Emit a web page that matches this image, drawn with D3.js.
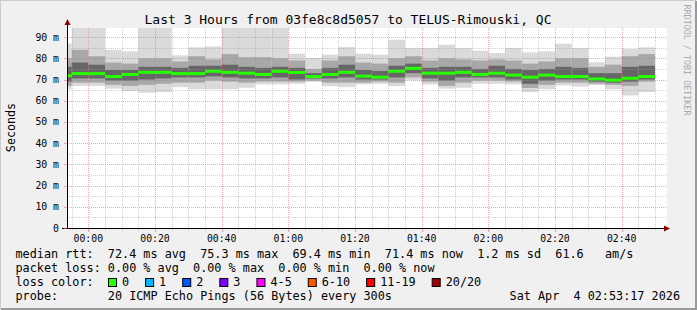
<!DOCTYPE html>
<html>
<head>
<meta charset="utf-8">
<script src="https://cdn.jsdelivr.net/npm/d3@7"></script>
<style>
body { margin: 0; background: #fff; }
svg text { font-family: "DejaVu Sans Mono", monospace; white-space: pre; }
</style>
</head>
<body>
<svg width="697" height="310"></svg>
<script>
// median rtt per 5 minute step (ms), first bin is the one ending 23:55
const medians = [71.8, 72.8, 72.8, 71.4, 72.4, 73.4, 73.4, 72.8, 72.8, 73.9, 73.4, 73.0,
                 72.4, 73.9, 73.3, 71.4, 72.4, 73.4, 71.6, 71.1, 73.9, 75.3, 73.0, 73.0,
                 73.4, 72.4, 73.0, 72.1, 71.1, 72.1, 71.4, 71.4, 70.3, 69.7, 70.6, 71.4];
// smoke: min / 10% / 25% / 75% / 90% / max of the 20 pings (ms)
const pingMin = [65.5, 67.0, 67.0, 65.7, 64.6, 63.8, 64.1, 66.4, 65.4, 65.4, 65.4, 66.1,
                 67.7, 67.7, 68.0, 68.9, 66.9, 66.4, 67.7, 68.0, 66.9, 69.6, 67.7, 65.7,
                 66.1, 68.0, 68.0, 67.7, 64.1, 65.4, 67.2, 66.7, 67.4, 65.4, 62.5, 64.1];
const p10 = [67.0, 68.5, 68.5, 67.5, 67.0, 67.5, 68.0, 68.5, 68.5, 69.5, 69.0, 68.5,
             69.0, 69.0, 69.0, 69.5, 68.5, 68.5, 68.5, 69.0, 68.5, 71.0, 69.0, 67.0,
             68.5, 69.5, 69.5, 69.0, 66.0, 67.5, 68.5, 68.5, 68.0, 67.5, 67.0, 69.0];
const p25 = [69.0, 70.5, 70.5, 69.5, 69.5, 70.0, 70.5, 71.0, 71.0, 71.5, 71.0, 70.5,
             70.5, 71.0, 70.0, 70.5, 70.5, 71.0, 70.0, 70.0, 71.0, 73.0, 70.5, 69.5,
             71.0, 71.0, 71.0, 70.0, 68.0, 69.5, 70.0, 70.0, 69.0, 68.5, 69.0, 70.0];
const p75 = [76.0, 78.0, 77.0, 74.5, 74.5, 76.0, 76.0, 75.5, 76.5, 76.5, 77.0, 76.0,
             75.5, 76.0, 75.5, 73.0, 75.5, 77.0, 74.5, 74.0, 76.5, 77.5, 75.5, 76.0,
             76.0, 75.0, 76.5, 75.0, 74.5, 75.0, 76.0, 75.5, 73.0, 73.0, 76.0, 76.5];
const p90 = [80.0, 84.0, 81.0, 78.0, 77.5, 80.0, 80.0, 78.5, 81.0, 79.5, 82.0, 80.5,
             80.5, 80.0, 79.0, 75.0, 79.0, 81.0, 78.0, 77.5, 80.0, 81.0, 79.0, 80.0,
             79.5, 79.0, 79.5, 79.0, 77.5, 78.5, 80.0, 80.0, 76.0, 77.0, 81.0, 82.0];
const pingMax = [87.0, 94.4, 94.4, 84.0, 83.3, 94.4, 94.4, 81.4, 85.2, 85.6, 94.4, 94.4,
                 94.4, 94.4, 82.2, 80.2, 81.7, 85.3, 82.2, 81.7, 88.8, 84.9, 84.9, 86.4,
                 84.9, 83.6, 82.5, 84.9, 82.8, 83.3, 86.9, 84.9, 78.1, 80.8, 84.4, 85.2];

const lossLabels = ['0', '1', '2', '3', '4-5', '6-10', '11-19', '20/20'];
const lossColors = ['#26ff00', '#00b8ff', '#0059ff', '#7e00ff', '#ff00ff', '#ff5500', '#ff0000', '#a10000'];

const legendLines = [
  'median rtt:  72.4 ms avg  75.3 ms max  69.4 ms min  71.4 ms now  1.2 ms sd  61.6   am/s',
  'packet loss: 0.00 % avg  0.00 % max  0.00 % min  0.00 % now',
  'loss color:',
  'probe:       20 ICMP Echo Pings (56 Bytes) every 300s'
];

const svg = d3.select('svg');

// frame
svg.append('rect').attr('width', 697).attr('height', 310).attr('fill', '#f0f0f0');
svg.append('path').attr('d', 'M0,309V0H696').attr('fill', 'none').attr('stroke', '#cbcbcb').attr('stroke-width', 2);
svg.append('path').attr('d', 'M1,309H696V1').attr('fill', 'none').attr('stroke', '#999').attr('stroke-width', 2);

const t0 = new Date(2026, 3, 4, 0, 0, 0);
const start = d3.timeSecond.offset(t0, -384);
const end = d3.timeSecond.offset(t0, 3 * 3600 - 384);

const x = d3.scaleTime().domain([start, end]).range([67, 667]);
const y = d3.scaleLinear().domain([0, 94.3]).range([228, 28]);

svg.append('rect').attr('x', 67).attr('y', 28).attr('width', 600).attr('height', 200).attr('fill', '#fff');

// one bin every 5 minutes, value drawn over (end-5min, end]
let bins = medians.map((m, i) => {
  let binEnd = d3.timeMinute.offset(t0, -5 + 5 * i);
  let binStart = d3.timeMinute.offset(binEnd, -5);
  return {
    x0: Math.max(x(binStart), x.range()[0]),
    x1: x(binEnd),
    med: m, lo: pingMin[i], hi: pingMax[i],
    q10: p10[i], q25: p25[i], q75: p75[i], q90: p90[i]
  };
});

let smoke = [
  ['lo', 'hi', '#dadada'],
  ['q10', 'q90', '#a8a8a8'],
  ['q25', 'q75', '#666666']
];
smoke.forEach(([a, b, color]) => {
  svg.append('g').selectAll('rect').data(bins).join('rect')
    .attr('x', d => d.x0)
    .attr('width', d => d.x1 - d.x0)
    .attr('y', d => y(Math.min(d[b], 94.3)))
    .attr('height', d => y(d[a]) - y(Math.min(d[b], 94.3)))
    .attr('fill', color);
});

// grid (drawn over the smoke like rrdtool does)
const mgrid = 'rgba(255,90,90,0.55)';
const ngrid = 'rgba(150,150,150,0.45)';
let grid = svg.append('g').attr('stroke-dasharray', '1,1').attr('fill', 'none');
let majorX = x.ticks(d3.timeMinute.every(20));
let minorX = x.ticks(d3.timeMinute.every(5));
minorX.forEach(t => {
  let isMajor = majorX.some(m => +m === +t);
  grid.append('line')
    .attr('x1', Math.round(x(t)) + 0.5).attr('x2', Math.round(x(t)) + 0.5)
    .attr('y1', 28).attr('y2', 228)
    .attr('stroke', isMajor ? mgrid : ngrid);
});
y.ticks(20).forEach(v => {
  if (v === 0) return;
  let isMajor = v % 10 === 0;
  grid.append('line')
    .attr('x1', 67).attr('x2', 667)
    .attr('y1', Math.round(y(v)) + 0.5).attr('y2', Math.round(y(v)) + 0.5)
    .attr('stroke', isMajor ? mgrid : ngrid);
});

// median, coloured by loss (all 0 here)
svg.append('g').selectAll('rect').data(bins).join('rect')
  .attr('x', d => d.x0)
  .attr('width', d => d.x1 - d.x0)
  .attr('y', d => y(d.med) - 1.5)
  .attr('height', 3)
  .attr('fill', lossColors[0]);

// axes
svg.append('line').attr('x1', 67.5).attr('x2', 67.5).attr('y1', 228).attr('y2', 22).attr('stroke', '#000');
svg.append('line').attr('x1', 62).attr('x2', 665).attr('y1', 228.5).attr('y2', 228.5).attr('stroke', '#000');
svg.append('path').attr('d', 'M64.5,25L67.5,19L70.5,25Z').attr('fill', '#8b0000');
svg.append('path').attr('d', 'M664,225.5L670,228.5L664,231.5Z').attr('fill', '#8b0000');

y.ticks(10).forEach(v => {
  svg.append('line').attr('x1', 64).attr('x2', 67)
    .attr('y1', Math.round(y(v)) + 0.5).attr('y2', Math.round(y(v)) + 0.5).attr('stroke', mgrid);
  svg.append('text')
    .attr('x', 59).attr('y', y(v) + 3.5)
    .attr('text-anchor', 'end').attr('font-size', 9.8).attr('fill', '#000')
    .text(v === 0 ? '0' : v + ' m');
});
minorX.forEach(t => {
  let isMajor = majorX.some(m => +m === +t);
  svg.append('line')
    .attr('x1', Math.round(x(t)) + 0.5).attr('x2', Math.round(x(t)) + 0.5)
    .attr('y1', 229).attr('y2', isMajor ? 232 : 230.5)
    .attr('stroke', isMajor ? mgrid : ngrid);
});
let fmt = d3.timeFormat('%H:%M');
majorX.forEach(t => {
  svg.append('text')
    .attr('x', x(t)).attr('y', 241.5)
    .attr('text-anchor', 'middle').attr('font-size', 9.8).attr('fill', '#000')
    .text(fmt(t));
});

// titles
svg.append('text').attr('x', 348).attr('y', 23.5).attr('text-anchor', 'middle')
  .attr('font-size', 13).attr('fill', '#000')
  .text('Last 3 Hours from 03fe8c8d5057 to TELUS-Rimouski, QC');
svg.append('text').attr('transform', 'translate(15,127.5) rotate(-90)').attr('text-anchor', 'middle')
  .attr('font-size', 11.7).attr('fill', '#000').text('Seconds');
svg.append('text').attr('transform', 'translate(684,60) rotate(90)').attr('text-anchor', 'middle')
  .attr('font-size', 8.4).attr('fill', '#aaa').text('RRDTOOL / TOBI OETIKER');

// legend
let legend = svg.append('g').attr('font-size', 11.8).attr('fill', '#000');
legendLines.forEach((line, i) => {
  legend.append('text').attr('x', 15.5).attr('y', 258 + i * 14).text(line);
});
legend.append('text').attr('x', 680).attr('y', 300).attr('text-anchor', 'end').text('Sat Apr  4 02:53:17 2026');

let cursor = 108;
lossLabels.forEach((lab, i) => {
  legend.append('rect')
    .attr('x', cursor + 0.5).attr('y', 278.5).attr('width', 8).attr('height', 8)
    .attr('fill', lossColors[i]).attr('stroke', '#000');
  let t = legend.append('text').attr('x', cursor + 14).attr('y', 286).text(lab);
  cursor = cursor + 14 + t.node().getComputedTextLength() + 16;
});
</script>
</body>
</html>
